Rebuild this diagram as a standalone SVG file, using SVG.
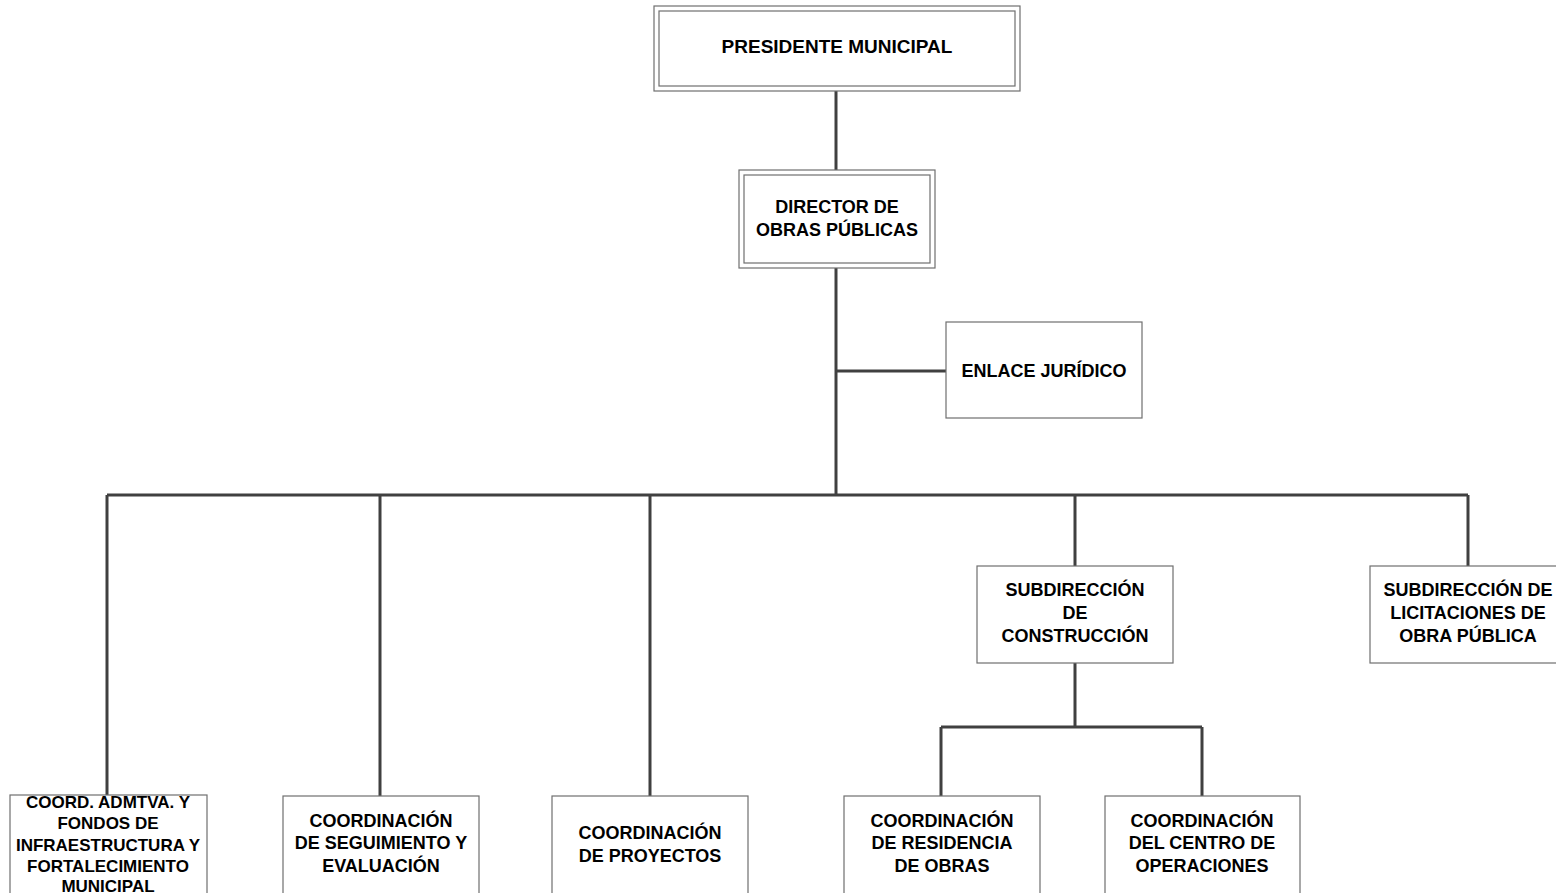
<svg xmlns="http://www.w3.org/2000/svg" width="1556" height="893" viewBox="0 0 1556 893">
<style>
.box{fill:#fff;stroke:#6f6f6f;stroke-width:1.2}
.in{fill:none;stroke:#6f6f6f;stroke-width:1.2}
.t{font-family:"Liberation Sans",Arial,sans-serif;font-weight:bold;font-size:18px;fill:#000;text-anchor:middle}
.s{font-size:17px}
.l{font-size:19px}
.c{fill:none;stroke:#404040;stroke-width:3}
</style>
<rect width="1556" height="893" fill="#fff"/>
<g id="connectors">
<path class="c" d="M836 91V170"/>
<path class="c" d="M836 268V495"/>
<path class="c" d="M836 371H946"/>
<path class="c" d="M107 495H1468"/>
<path class="c" d="M107 495V795M380 495V796M650 495V796M1075 495V566M1468 495V566"/>
<path class="c" d="M1075 663V727M941 727H1202M941 727V796M1202 727V796"/>
</g>
<g id="presidente">
<rect class="box" x="654" y="6" width="366" height="85"/>
<rect class="in" x="659" y="11" width="356" height="75"/>
<text class="t l" x="837" y="53">PRESIDENTE MUNICIPAL</text>
</g>
<g id="director">
<rect class="box" x="739" y="170" width="196" height="98"/>
<rect class="in" x="744" y="175" width="186" height="88"/>
<text class="t" x="837" y="213">DIRECTOR DE</text>
<text class="t" x="837" y="236">OBRAS PÚBLICAS</text>
</g>
<g id="enlace">
<rect class="box" x="946" y="322" width="196" height="96"/>
<text class="t" x="1044" y="377">ENLACE JURÍDICO</text>
</g>
<g id="sub-construccion">
<rect class="box" x="977" y="566" width="196" height="97"/>
<text class="t" x="1075" y="596">SUBDIRECCIÓN</text>
<text class="t" x="1075" y="619">DE</text>
<text class="t" x="1075" y="642">CONSTRUCCIÓN</text>
</g>
<g id="sub-licitaciones">
<rect class="box" x="1370" y="566" width="196" height="97"/>
<text class="t" x="1468" y="596">SUBDIRECCIÓN DE</text>
<text class="t" x="1468" y="619">LICITACIONES DE</text>
<text class="t" x="1468" y="642">OBRA PÚBLICA</text>
</g>
<g id="coord-admtva">
<rect class="box" x="10" y="795" width="197" height="110"/>
<text class="t s" x="108" y="808">COORD. ADMTVA. Y</text>
<text class="t s" x="108" y="829">FONDOS DE</text>
<text class="t s" x="108" y="851">INFRAESTRUCTURA Y</text>
<text class="t s" x="108" y="872">FORTALECIMIENTO</text>
<text class="t s" x="108" y="892">MUNICIPAL</text>
</g>
<g id="coord-seguimiento">
<rect class="box" x="283" y="796" width="196" height="110"/>
<text class="t" x="381" y="827">COORDINACIÓN</text>
<text class="t" x="381" y="849">DE SEGUIMIENTO Y</text>
<text class="t" x="381" y="872">EVALUACIÓN</text>
</g>
<g id="coord-proyectos">
<rect class="box" x="552" y="796" width="196" height="110"/>
<text class="t" x="650" y="839">COORDINACIÓN</text>
<text class="t" x="650" y="862">DE PROYECTOS</text>
</g>
<g id="coord-residencia">
<rect class="box" x="844" y="796" width="196" height="110"/>
<text class="t" x="942" y="827">COORDINACIÓN</text>
<text class="t" x="942" y="849">DE RESIDENCIA</text>
<text class="t" x="942" y="872">DE OBRAS</text>
</g>
<g id="coord-operaciones">
<rect class="box" x="1105" y="796" width="195" height="110"/>
<text class="t" x="1202" y="827">COORDINACIÓN</text>
<text class="t" x="1202" y="849">DEL CENTRO DE</text>
<text class="t" x="1202" y="872">OPERACIONES</text>
</g>
</svg>
